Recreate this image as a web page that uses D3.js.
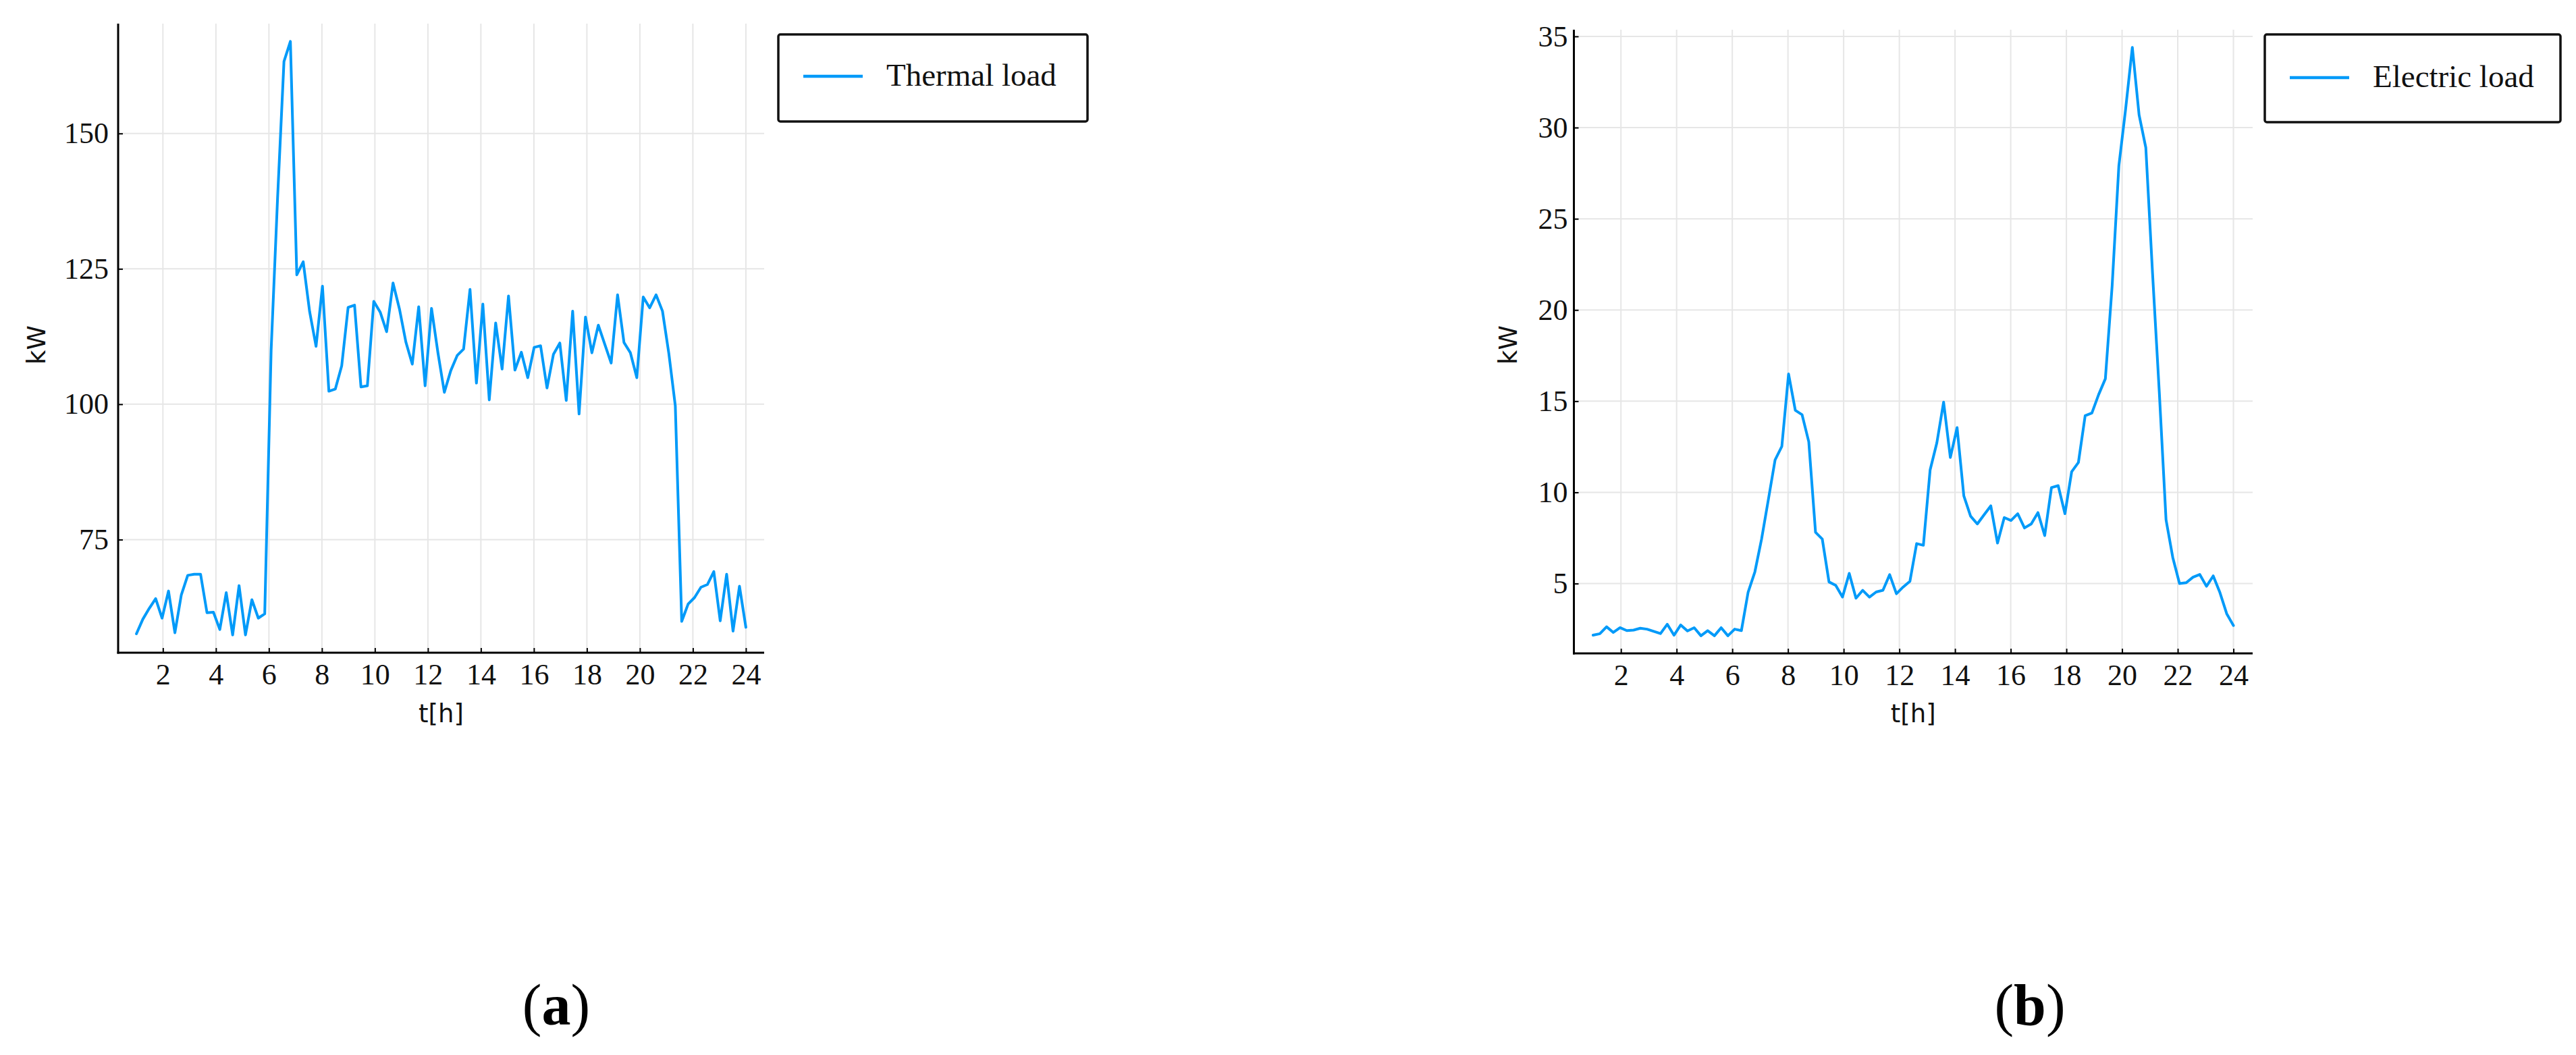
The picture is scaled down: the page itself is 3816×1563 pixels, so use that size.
<!DOCTYPE html>
<html>
<head>
<meta charset="utf-8">
<script src="https://cdn.jsdelivr.net/npm/d3@7"></script>
<style>
  html, body { margin: 0; padding: 0; background: #ffffff; }
  svg { display: block; }
</style>
</head>
<body>
<svg id="chart" width="3816" height="1563"></svg>
<script>
// ---------------- DATA ----------------
// 96 samples (15-min resolution) spread over t = 1 ... 24 h
const thermalLoad = [
  57.6, 60.3, 62.3, 64.1, 60.5, 65.5, 57.8, 64.8, 68.4, 68.6, 68.6, 61.5,
  61.6, 58.4, 65.2, 57.4, 66.5, 57.4, 63.9, 60.5, 61.3, 110.0, 138.0, 163.3,
  167.0, 123.9, 126.3, 117.1, 110.7, 121.8, 102.4, 102.8, 107.1, 117.9, 118.3, 103.2,
  103.4, 119.0, 117.0, 113.4, 122.4, 117.6, 111.5, 107.4, 118.0, 103.4, 117.7, 109.5,
  102.2, 106.2, 109.0, 110.2, 121.2, 103.9, 118.5, 100.8, 115.0, 106.5, 120.0, 106.3,
  109.6, 104.9, 110.5, 110.8, 103.0, 109.2, 111.3, 100.7, 117.2, 98.2, 116.1, 109.5,
  114.6, 111.1, 107.6, 120.2, 111.4, 109.5, 104.9, 119.8, 117.8, 120.2, 117.2, 109.3,
  99.7, 59.9, 63.1, 64.3, 66.2, 66.7, 69.1, 60.0, 68.6, 58.1, 66.4, 58.8
];
const electricLoad = [
  2.17, 2.25, 2.63, 2.32, 2.58, 2.42, 2.45, 2.55, 2.50, 2.38, 2.26, 2.77,
  2.17, 2.73, 2.40, 2.58, 2.14, 2.42, 2.14, 2.58, 2.14, 2.50, 2.42, 4.53,
  5.64, 7.45, 9.60, 11.78, 12.52, 16.49, 14.50, 14.26, 12.77, 7.81, 7.44, 5.09,
  4.90, 4.26, 5.56, 4.20, 4.63, 4.26, 4.54, 4.63, 5.49, 4.44, 4.81, 5.12,
  7.19, 7.10, 11.23, 12.72, 14.95, 11.91, 13.55, 9.81, 8.70, 8.27, 8.77, 9.26,
  7.22, 8.62, 8.46, 8.83, 8.05, 8.27, 8.89, 7.63, 10.26, 10.37, 8.83, 11.13,
  11.64, 14.20, 14.35, 15.36, 16.23, 21.30, 27.90, 31.00, 34.40, 30.70, 28.90, 22.00,
  15.50, 8.50, 6.43, 5.00, 5.05, 5.35, 5.50, 4.85, 5.42, 4.50, 3.35, 2.70
];
const timeStart = 1;
const timeEnd = 24;
const xTickValues = [2, 4, 6, 8, 10, 12, 14, 16, 18, 20, 22, 24];
const thermalYTicks = [75, 100, 125, 150];
const electricYTicks = [5, 10, 15, 20, 25, 30, 35];
const seriesNames = ["Thermal load", "Electric load"];
const panelCaptions = ["a", "b"];
const xAxisTitle = "t[h]";
const yAxisTitle = "kW";

// ---------------- STYLE ----------------
const LINE_COLOR = "#009af9";
const GRID_COLOR = "#e6e6e6";
const SERIF = "'Liberation Serif', 'Times New Roman', serif";
const SANS = "'DejaVu Sans', sans-serif";

const svg = d3.select("#chart");
svg.append("rect").attr("width", 3816).attr("height", 1563).attr("fill", "#fff");

function widen(values) {
  const lo = d3.min(values), hi = d3.max(values);
  const pad = 0.03 * (hi - lo);
  return [lo - pad, hi + pad];
}

function drawPanel(cfg) {
  const { values, yTicks, box, legend, name, caption, captionX, yTitleX, yLabelGap } = cfg;
  const n = values.length;
  const times = values.map((_, i) => timeStart + i * (timeEnd - timeStart) / (n - 1));
  const data = values.map((v, i) => ({ t: times[i], v }));

  const x = d3.scaleLinear().domain(widen([timeStart, timeEnd])).range([box.x0, box.x1]);
  const y = d3.scaleLinear().domain(widen(values)).range([box.y1, box.y0]);

  const g = svg.append("g");

  // grid
  g.append("g").selectAll("line.vg").data(xTickValues).join("line")
    .attr("x1", d => x(d)).attr("x2", d => x(d))
    .attr("y1", box.y0).attr("y2", box.y1)
    .attr("stroke", GRID_COLOR).attr("stroke-width", 2);
  g.append("g").selectAll("line.hg").data(yTicks).join("line")
    .attr("x1", box.x0).attr("x2", box.x1)
    .attr("y1", d => y(d)).attr("y2", d => y(d))
    .attr("stroke", GRID_COLOR).attr("stroke-width", 2);

  // x axis
  const xAxis = d3.axisBottom(x).tickValues(xTickValues).tickSizeInner(-7).tickSizeOuter(0).tickPadding(16);
  const gx = g.append("g").attr("transform", `translate(0,${box.y1})`).call(xAxis);
  gx.select(".domain").attr("stroke", "#000").attr("stroke-width", 3)
    .attr("d", `M${box.x0 - 1.5},0H${box.x1}`);
  gx.selectAll(".tick line").attr("stroke", "#000").attr("stroke-width", 2);
  gx.selectAll(".tick text")
    .attr("font-family", SERIF).attr("font-size", 44).attr("fill", "#111")
    .attr("dy", "0.71em");

  // y axis
  const yAxis = d3.axisLeft(y).tickValues(yTicks).tickSizeInner(-7).tickSizeOuter(0).tickPadding(yLabelGap);
  const gy = g.append("g").attr("transform", `translate(${box.x0},0)`).call(yAxis);
  gy.select(".domain").attr("stroke", "#000").attr("stroke-width", 3)
    .attr("d", `M0,${box.y0}V${box.y1 + 1.5}`);
  gy.selectAll(".tick line").attr("stroke", "#000").attr("stroke-width", 2);
  gy.selectAll(".tick text")
    .attr("font-family", SERIF).attr("font-size", 44).attr("fill", "#111");

  // line
  const line = d3.line().x(d => x(d.t)).y(d => y(d.v));
  g.append("path").datum(data)
    .attr("d", line)
    .attr("fill", "none").attr("stroke", LINE_COLOR)
    .attr("stroke-width", 4).attr("stroke-linejoin", "round").attr("stroke-linecap", "round");

  // axis titles
  g.append("text")
    .attr("x", (box.x0 + box.x1) / 2).attr("y", 1070)
    .attr("text-anchor", "middle")
    .attr("font-family", SANS).attr("font-size", 37).attr("fill", "#111")
    .text(xAxisTitle);
  g.append("text")
    .attr("transform", `translate(${yTitleX},511) rotate(-90)`)
    .attr("text-anchor", "middle")
    .attr("font-family", SANS).attr("font-size", 37).attr("fill", "#111")
    .text(yAxisTitle);

  // legend
  const lg = g.append("g");
  lg.append("rect")
    .attr("x", legend.x0).attr("y", legend.y0)
    .attr("width", legend.x1 - legend.x0).attr("height", legend.y1 - legend.y0)
    .attr("rx", 3).attr("fill", "#fff").attr("stroke", "#111").attr("stroke-width", 3.5);
  lg.append("line")
    .attr("x1", legend.x0 + 37).attr("x2", legend.x0 + 125)
    .attr("y1", legend.lineY).attr("y2", legend.lineY)
    .attr("stroke", LINE_COLOR).attr("stroke-width", 4.5);
  lg.append("text")
    .attr("x", legend.x0 + 160).attr("y", legend.lineY + 14)
    .attr("font-family", SERIF).attr("font-size", 47).attr("fill", "#111")
    .text(name);

  // caption
  const cap = svg.append("text")
    .attr("x", captionX).attr("y", 1518)
    .attr("text-anchor", "middle")
    .attr("font-family", SERIF).attr("font-size", 86).attr("fill", "#000");
  cap.append("tspan").text("(");
  cap.append("tspan").attr("font-weight", "bold").text(caption);
  cap.append("tspan").text(")");
}

drawPanel({
  values: thermalLoad,
  yTicks: thermalYTicks,
  box: { x0: 175, x1: 1132, y0: 35, y1: 967 },
  legend: { x0: 1153, x1: 1611, y0: 51, y1: 180, lineY: 113 },
  name: seriesNames[0],
  caption: panelCaptions[0],
  captionX: 824,
  yTitleX: 67,
  yLabelGap: 14
});

drawPanel({
  values: electricLoad,
  yTicks: electricYTicks,
  box: { x0: 2331.5, x1: 3337, y0: 44, y1: 968 },
  legend: { x0: 3355, x1: 3793, y0: 51, y1: 181, lineY: 115 },
  name: seriesNames[1],
  caption: panelCaptions[1],
  captionX: 3007,
  yTitleX: 2247,
  yLabelGap: 9
});
</script>
</body>
</html>
